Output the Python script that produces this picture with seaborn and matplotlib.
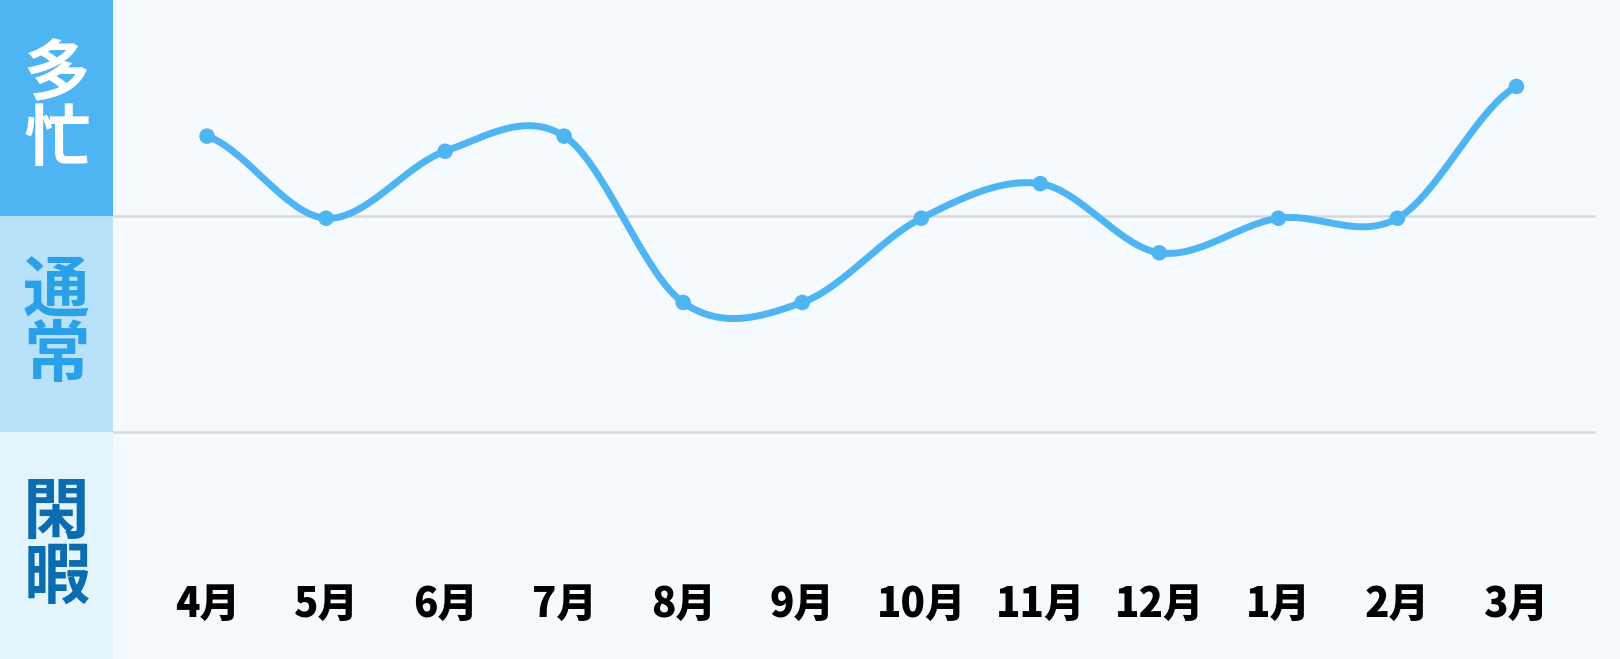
import numpy as np
import pandas as pd
import matplotlib
matplotlib.use("Agg")
import matplotlib.pyplot as plt
import seaborn as sns

# data (1 = boundary 閑暇/通常, 2 = boundary 通常/多忙)
months = ["4月", "5月", "6月", "7月", "8月", "9月", "10月", "11月", "12月", "1月", "2月", "3月"]
busy = [2.37, 1.99, 2.30, 2.37, 1.60, 1.60, 1.99, 2.15, 1.83, 1.99, 1.99, 2.60]
levels = ["閑暇", "通常", "多忙"]
level_bounds = [-0.05, 1.0, 2.0, 3.0]

sns.set_theme(style="white")
plt.rcParams["font.family"] = ["Noto Sans CJK JP", "DejaVu Sans"]

bg = "#f5faff"
band_colors = ["#e3f4fd", "#b8e2fa", "#4fb5f2"]
label_colors = ["#0b6db0", "#2aa0e8", "#ffffff"]
line_color = "#4fb5f2"

fig = plt.figure(figsize=(16.2, 6.59), dpi=100)
fig.patch.set_facecolor(bg)

left_w = 113 / 1620
ax_l = fig.add_axes([0, 0, left_w, 1])
ax = fig.add_axes([left_w, 0, 1 - left_w, 1])

ylim = (level_bounds[0], level_bounds[-1])

# left band panel
for i, lab in enumerate(levels):
    lo, hi = level_bounds[i], level_bounds[i + 1]
    ax_l.axhspan(lo, hi, color=band_colors[i], lw=0)
    ax_l.text(0.5, (lo + hi) / 2, "\n".join(lab), ha="center", va="center",
              fontsize=48, fontweight="bold", color=label_colors[i], linespacing=0.96)
ax_l.set_xlim(0, 1)
ax_l.set_ylim(*ylim)
ax_l.axis("off")

# main panel
ax.set_facecolor(bg)
x = np.arange(len(months))
for b in level_bounds[1:3]:
    ax.hlines(b, -0.8, 11.66, color="#d8d8d8", lw=1.8, zorder=1)

# smooth curve (Catmull-Rom through the points)
px = np.concatenate([[x[0] - 1], x, [x[-1] + 1]]).astype(float)
py = np.concatenate([[busy[0]], busy, [busy[-1]]]).astype(float)
sx, sy = [], []
t = np.linspace(0, 1, 40)
for i in range(1, len(px) - 2):
    p0, p1, p2, p3 = py[i - 1], py[i], py[i + 1], py[i + 2]
    yy = 0.5 * ((2 * p1) + (-p0 + p2) * t + (2 * p0 - 5 * p1 + 4 * p2 - p3) * t ** 2
                + (-p0 + 3 * p1 - 3 * p2 + p3) * t ** 3)
    sx.extend(px[i] + t)
    sy.extend(yy)
curve = pd.DataFrame({"x": sx, "y": sy})
pts = pd.DataFrame({"x": x, "y": busy})

sns.lineplot(data=curve, x="x", y="y", ax=ax, color=line_color, lw=5.0,
             sort=False, zorder=3, solid_capstyle="round")
sns.scatterplot(data=pts, x="x", y="y", ax=ax, color=line_color, s=125,
                edgecolor="none", zorder=4)

for i, m in enumerate(months):
    ax.text(i, 0.20, m, ha="center", va="center", fontsize=29,
            fontweight="heavy", color="black")

ax.set_xlim(-0.79, 11.87)
ax.set_ylim(*ylim)
ax.axis("off")

fig.savefig("out.png", dpi=100, facecolor=bg)
